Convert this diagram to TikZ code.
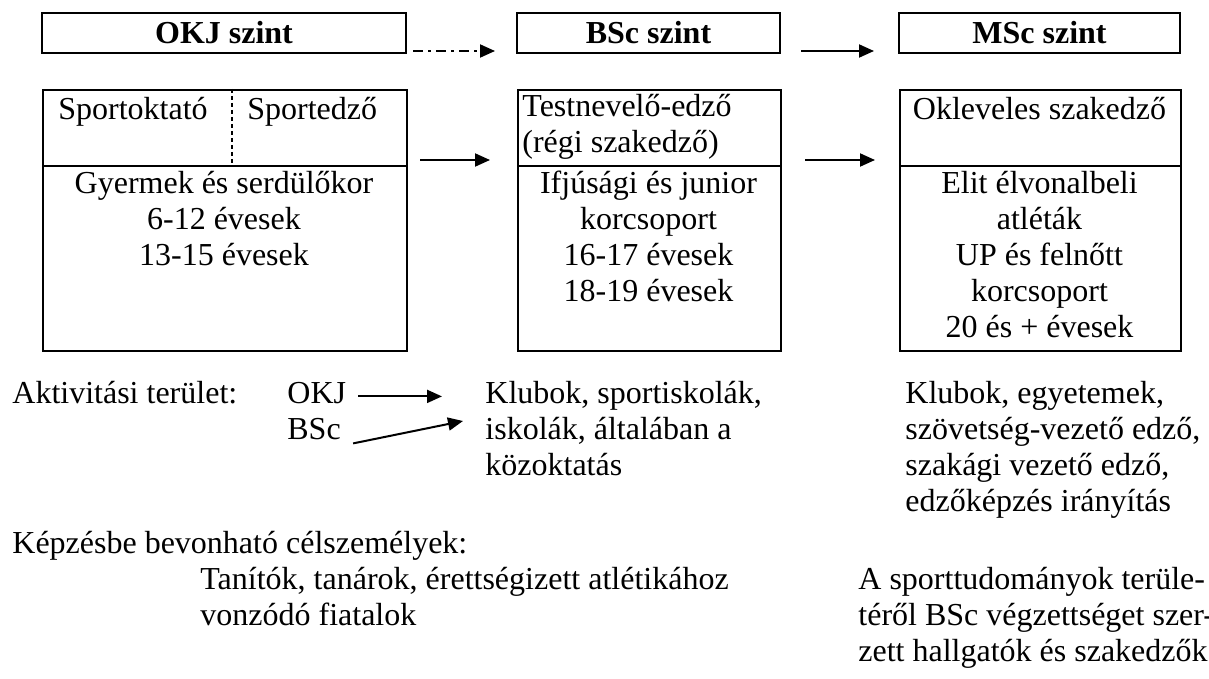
\documentclass[tikz,border=0pt]{standalone}
\usepackage{fontspec}
\setmainfont{Liberation Serif}
\usetikzlibrary{arrows.meta}
\newcommand{\fs}{\fontsize{16}{18}\selectfont}

\begin{document}
\begin{tikzpicture}[x=0.5pt, y=-0.5pt,
    every node/.style={inner sep=0pt, font=\fs},
    headbox/.style={draw, line width=1pt, minimum height=20pt, font=\fs\bfseries},
    cell/.style={draw, line width=1pt, anchor=north west},
    lbl/.style={anchor=north west, align=left},
    mid/.style={anchor=north, align=center},
    arr/.style={line width=1pt, -{Triangle[length=7.5pt,width=6.5pt]}}]
  \useasboundingbox (0,0) rectangle (1209,679);

  % szint headers
  \node[headbox, minimum width=182pt] (okjhead) at (224,33) {OKJ szint};
  \node[headbox, minimum width=131.5pt] (bschead) at (648.5,33) {BSc szint};
  \node[headbox, minimum width=140.5pt] (mschead) at (1039.5,33) {MSc szint};

  \draw[arr, dash pattern=on 5pt off 2.5pt on 1.5pt off 2.5pt]
    ([shift={(6,-3)}]okjhead.south east) -- ([shift={(-21,-3)}]bschead.south west);
  \draw[arr] ([shift={(20,-3)}]bschead.south east) -- ([shift={(-24,-3)}]mschead.south west);

  % tables
  \node[cell, minimum width=182pt, minimum height=38pt] (okjtop) at (42,89) {};
  \node[cell, minimum width=182pt, minimum height=92.5pt] (okjlow) at (42,165) {};
  \node[cell, minimum width=131.5pt, minimum height=38pt] (bsctop) at (517,89) {};
  \node[cell, minimum width=131.5pt, minimum height=92.5pt] (bsclow) at (517,165) {};
  \node[cell, minimum width=140.5pt, minimum height=38pt] (msctop) at (899,89) {};
  \node[cell, minimum width=140.5pt, minimum height=92.5pt] (msclow) at (899,165) {};

  \draw[line width=1pt, dash pattern=on 2pt off 1.5pt]
    ([xshift=3.5pt]okjtop.north) -- ([xshift=3.5pt]okjtop.south);

  \node[lbl] (sportokt) at (58,94) {\strut Sportoktató};
  \node[lbl] (sportedz) at (247,94) {\strut Sportedző};
  \node[lbl] (testnev) at (522,91) {\strut Testnevelő-edző\\(régi szakedző)};
  \node[mid] (oklev) at (1039.5,94) {\strut Okleveles szakedző};

  \node[mid] (gyermek) at (224,168) {\strut Gyermek és serdülőkor\\6-12 évesek\\13-15 évesek};
  \node[mid] (ifjusagi) at (648.5,168) {\strut Ifjúsági és junior\\korcsoport\\16-17 évesek\\18-19 évesek};
  \node[mid] (elit) at (1039.5,168) {\strut Elit élvonalbeli\\atléták\\UP és felnőtt\\korcsoport\\20 és + évesek};

  \draw[arr] ([shift={(12,-7)}]okjtop.south east) -- ([shift={(-27,-7)}]bsctop.south west);
  \draw[arr] ([shift={(23,-7)}]bsctop.south east) -- ([shift={(-24,-7)}]msctop.south west);

  % aktivitasi terulet
  \node[lbl] (aktiv) at (12,378) {\strut Aktivitási terület:};
  \node[lbl] (okjlbl) at (287,378) {\strut OKJ};
  \node[lbl] (bsclbl) at (287,414) {\strut BSc};
  \node[lbl] (klubok) at (485,378) {\strut Klubok, sportiskolák,\\iskolák, általában a\\közoktatás};
  \node[lbl] (vezeto) at (905,378) {\strut Klubok, egyetemek,\\szövetség-vezető edző,\\szakági vezető edző,\\edzőképzés irányítás};

  \draw[arr] ([xshift=6pt]okjlbl.east) -- ([xshift=-21.5pt]okjlbl.east -| klubok.west);
  \draw[arr] ([shift={(12,11)}]bsclbl.east) -- ([shift={(-22,43)}]klubok.north west);

  % celszemelyek
  \node[lbl] (kepzes) at (12,528) {\strut Képzésbe bevonható célszemélyek:};
  \node[lbl] (tanitok) at (200,564) {\strut Tanítók, tanárok, érettségizett atlétikához\\vonzódó fiatalok};
  \node[lbl] (hallgatok) at (858,564) {\strut A sporttudományok terüle-\\téről BSc végzettséget szer-\\zett hallgatók és szakedzők};
\end{tikzpicture}
\end{document}
